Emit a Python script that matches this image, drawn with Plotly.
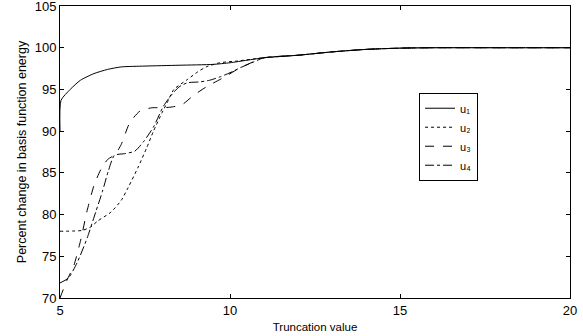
import plotly.graph_objects as go

# u1 (solid)
u1_x = [5, 5.03, 5.3, 5.6, 6.0, 6.4, 6.8, 7.5, 8.5, 9.5, 10.0, 10.5, 11, 12, 13, 14, 15, 16, 18, 20]
u1_y = [90, 93.7, 95.0, 96.1, 96.9, 97.4, 97.7, 97.8, 97.9, 98.0, 98.2, 98.5, 98.8, 99.1, 99.5, 99.8, 99.95, 100, 100, 100]

# u2 (dotted)
u2_x = [5, 5.65, 5.9, 6.1, 6.5, 6.8, 7.0, 7.3, 7.55, 7.75, 8.0, 8.15, 8.35, 8.75, 9.05, 9.3, 9.7, 10.2, 11, 12, 13, 14, 15, 16, 18, 20]
u2_y = [78, 78.1, 78.5, 79.2, 80.3, 81.7, 83.2, 85.7, 88.0, 90.0, 92.2, 93.4, 95.0, 96.2, 97.1, 97.7, 98.2, 98.4, 98.8, 99.1, 99.5, 99.8, 99.95, 100, 100, 100]

# u3 (dashed)
u3_x = [5, 5.2, 5.4, 5.6, 5.8, 6.0, 6.2, 6.4, 6.62, 6.8, 7.05, 7.35, 7.7, 8.0, 8.3, 8.6, 8.9, 9.3, 9.8, 10.3, 10.8, 11, 12, 13, 14, 15, 16, 18, 20]
u3_y = [70, 72.1, 73.8, 76.8, 80.5, 83.5, 85.4, 86.6, 87.2, 88.4, 91.0, 92.4, 92.8, 92.8, 92.9, 93.2, 94.2, 95.3, 96.4, 97.6, 98.5, 98.8, 99.1, 99.5, 99.8, 99.95, 100, 100, 100]

# u4 (dash-dot)
u4_x = [5, 5.25, 5.5, 5.8, 6.05, 6.25, 6.42, 6.6, 6.9, 7.2, 7.45, 7.75, 8.03, 8.25, 8.5, 8.75, 9.1, 9.4, 9.7, 10.0, 10.3, 10.7, 11, 12, 13, 14, 15, 16, 18, 20]
u4_y = [71.8, 72.4, 74.2, 77.2, 80.3, 82.8, 85.2, 87.1, 87.3, 87.6, 88.7, 90.5, 92.9, 94.2, 95.3, 95.8, 95.9, 96.1, 96.5, 97.0, 97.6, 98.3, 98.8, 99.1, 99.5, 99.8, 99.95, 100, 100, 100]

x_ticks = [5, 10, 15, 20]
y_ticks = [70, 75, 80, 85, 90, 95, 100, 105]
names = ["u\u2081", "u\u2082", "u\u2083", "u\u2084"]

series = [
    (names[0], u1_x, u1_y, "solid"),
    (names[1], u2_x, u2_y, "dot"),
    (names[2], u3_x, u3_y, "dash"),
    (names[3], u4_x, u4_y, "dashdot"),
]

fig = go.Figure()
for name, xs, ys, dash in series:
    fig.add_trace(go.Scatter(
        x=xs, y=ys, name=name, mode="lines",
        line=dict(color="black", width=1, dash=dash, shape="spline", smoothing=0.6),
    ))

font = "Liberation Sans, Arial, sans-serif"
fig.update_layout(
    width=583, height=336,
    margin=dict(l=60, r=13, t=6, b=38, autoexpand=False),
    paper_bgcolor="white", plot_bgcolor="white",
    font=dict(family=font, size=12, color="black"),
    showlegend=True,
    legend=dict(
        x=0.704, y=0.703, xanchor="left", yanchor="top",
        bgcolor="white", bordercolor="black", borderwidth=1,
        font=dict(size=11), tracegroupgap=0, itemwidth=30,
        entrywidth=68, entrywidthmode="pixels",
    ),
    xaxis=dict(
        range=[5, 20], tickvals=x_ticks, ticktext=[str(v) for v in x_ticks],
        showline=True, linecolor="black", linewidth=1, mirror="ticks",
        ticks="inside", ticklen=4, tickcolor="black", showgrid=False, zeroline=False,
        tickfont=dict(size=13), ticklabeloverflow="allow", automargin=False,
        title=dict(text="Truncation value", standoff=6, font=dict(size=11.5)),
    ),
    yaxis=dict(
        range=[69.999, 105.001], tickvals=y_ticks, ticktext=[str(v) for v in y_ticks],
        showline=True, linecolor="black", linewidth=1, mirror="ticks",
        ticks="inside", ticklen=4, tickcolor="black", showgrid=False, zeroline=False,
        tickfont=dict(size=13), ticklabeloverflow="allow", automargin=False,
        title=dict(text="Percent change in basis function energy", standoff=5, font=dict(size=12.5)),
    ),
)

fig.write_html("out.html")
